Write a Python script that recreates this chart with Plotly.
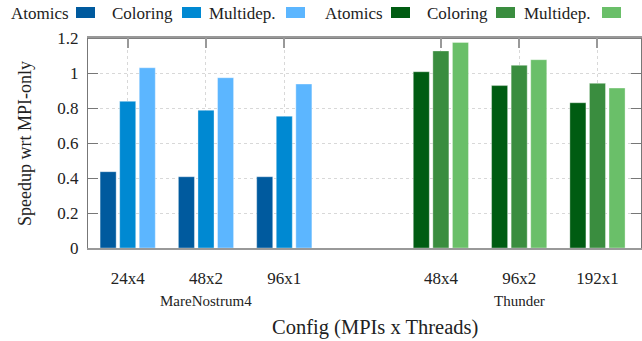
import plotly.graph_objects as go

# ---- data ----
configs = ["24x4", "48x2", "96x1", "48x4", "96x2", "192x1"]
machines = ["MareNostrum4", "MareNostrum4", "MareNostrum4", "Thunder", "Thunder", "Thunder"]
atomics = [0.436, 0.407, 0.407, 1.007, 0.928, 0.830]
coloring = [0.838, 0.787, 0.753, 1.126, 1.044, 0.941]
multidep = [1.030, 0.973, 0.937, 1.175, 1.076, 0.914]
series_names = ["Atomics", "Coloring", "Multidep."]
yticks = [0, 0.2, 0.4, 0.6, 0.8, 1, 1.2]
ytick_text = ["0", "0.2", "0.4", "0.6", "0.8", "1", "1.2"]

# ---- styles ----
blues = ["#005a9e", "#0089d2", "#5cb6ff"]
greens = ["#005c12", "#3a8d3f", "#6abf69"]
FONT = "'Liberation Serif', 'Times New Roman', serif"
W, H = 642, 341
ML, MR, MT, MB = 88, 1, 38, 93
pw, ph = W - ML - MR, H - MT - MB

# x positions: gap of one slot between machines
order = list(dict.fromkeys(machines))
xpos = [i + order.index(m) for i, m in enumerate(machines)]

fig = go.Figure()
for k, (name, vals) in enumerate(zip(series_names, [atomics, coloring, multidep])):
    cols = [blues[k] if m == order[0] else greens[k] for m in machines]
    fig.add_trace(go.Bar(
        x=xpos, y=vals, name=name, showlegend=False,
        marker=dict(color=cols, line=dict(color="rgba(255,255,255,0.35)", width=1)),
    ))

fig.update_layout(
    width=W, height=H, margin=dict(l=ML, r=MR, t=MT, b=MB),
    plot_bgcolor="white", paper_bgcolor="white",
    barmode="group", bargap=0.25, bargroupgap=0.18,
    font=dict(family=FONT, size=17, color="#222"),
)
fig.update_xaxes(
    range=[-0.507, 6.556], tickvals=xpos, ticktext=configs,
    showline=True, linecolor="#999", linewidth=1.5, mirror="allticks",
    ticks="inside", ticklen=10, tickcolor="#999", tickwidth=2,
    showgrid=True, gridcolor="#d8d8d8", griddash="dot", gridwidth=1,
    zeroline=False, layer="below traces", ticklabelstandoff=14,
    tickfont=dict(size=17, family=FONT),
)
fig.update_yaxes(
    range=[0, 1.2], tickvals=yticks, ticktext=ytick_text,
    showline=True, linecolor="#777", linewidth=1, mirror="allticks",
    ticks="inside", ticklen=10, tickcolor="#777", tickwidth=1,
    showgrid=True, gridcolor="#d8d8d8", griddash="dot", gridwidth=1,
    zeroline=False, layer="below traces", ticklabelstandoff=5,
    tickfont=dict(size=17, family=FONT),
)

def px2x(px):
    return (px - ML) / pw

def px2y(py):
    return (H - MB - py) / ph

# darker top frame line
fig.add_shape(type="line", xref="paper", yref="paper", x0=0, x1=1, y0=1, y1=1,
              line=dict(color="#555", width=1.5), layer="below")

# y title
fig.add_annotation(text="Speedup wrt MPI-only", xref="paper", yref="paper",
                   x=px2x(25), y=px2y(144), textangle=-90, showarrow=False,
                   xanchor="center", yanchor="middle",
                   font=dict(size=18, family=FONT, color="#222"))
# x title
fig.add_annotation(text="Config (MPIs x Threads)", xref="paper", yref="paper",
                   x=px2x(375), y=px2y(327), showarrow=False,
                   xanchor="center", yanchor="middle",
                   font=dict(size=20.5, family=FONT, color="#222"))
# machine group labels
for m in order:
    xs = [x for x, mm in zip(xpos, machines) if mm == m]
    fig.add_annotation(text=m, xref="x", yref="paper", x=sum(xs) / len(xs),
                       y=px2y(301), showarrow=False,
                       xanchor="center", yanchor="middle",
                       font=dict(size=15, family=FONT, color="#222"))

# custom legend: text followed by swatch
text_left = [9, 110, 207, 323, 425, 522]
sw_left = [76, 182, 286, 391, 496, 602]
leg_names = series_names + series_names
leg_cols = blues + greens
for tl, sl, nm, c in zip(text_left, sw_left, leg_names, leg_cols):
    fig.add_annotation(text=nm, xref="paper", yref="paper", x=px2x(tl), y=px2y(14),
                       xanchor="left", yanchor="middle", showarrow=False,
                       font=dict(size=17, family=FONT, color="#222"))
    fig.add_shape(type="rect", xref="paper", yref="paper",
                  x0=px2x(sl), x1=px2x(sl + 19), y0=px2y(18), y1=px2y(7),
                  fillcolor=c, line=dict(width=0))

fig.write_html("out.html")
